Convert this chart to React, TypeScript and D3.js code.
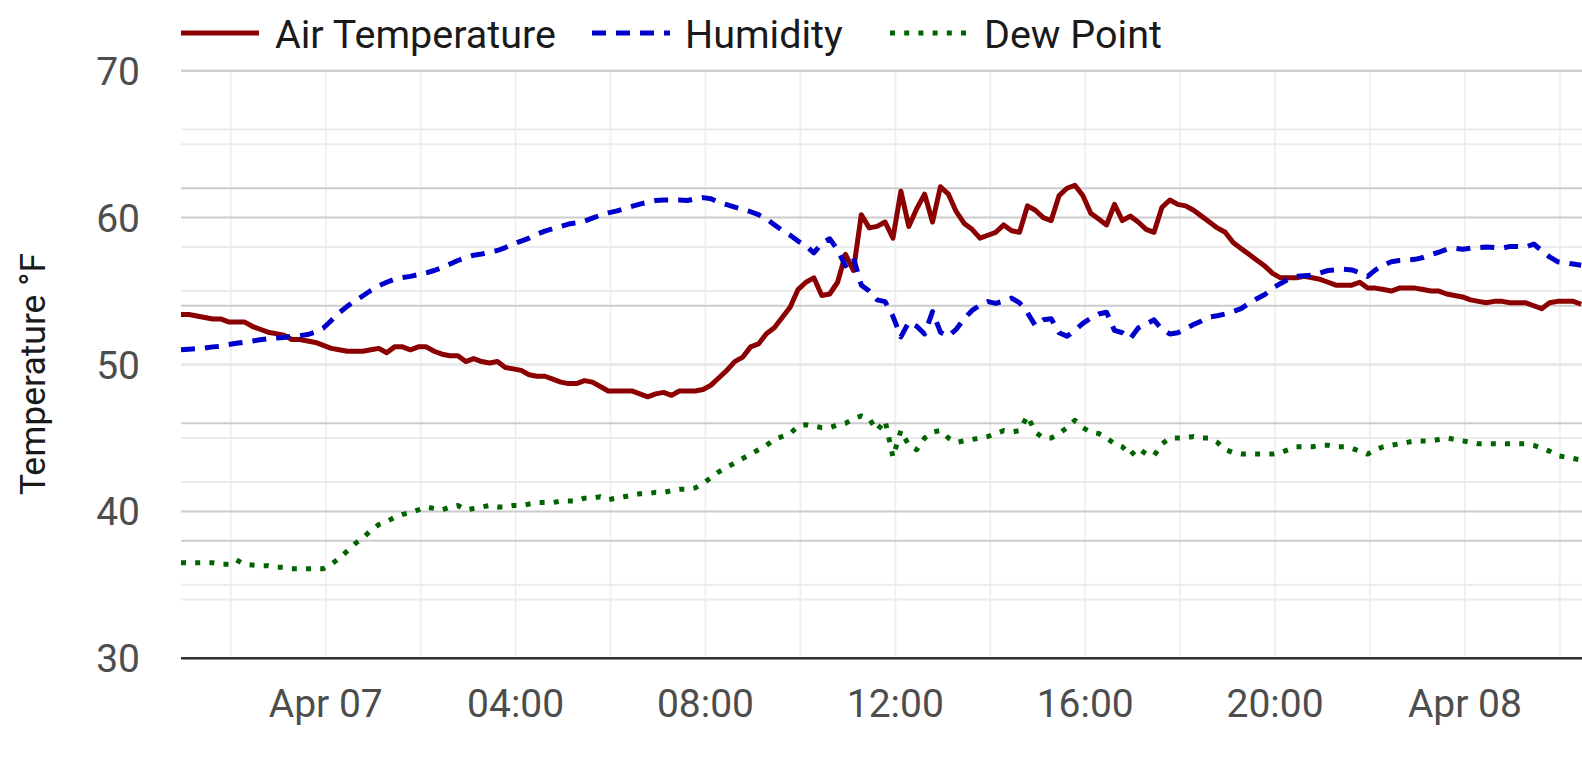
import React, { useEffect, useRef } from "react";
import * as d3 from "d3";

// readings every 10 minutes, starting Apr 6 20:57
const startTime = new Date(2024, 3, 6, 20, 57);
const stepMinutes = 10;

const airTemperature = [
  53.4, 53.4, 53.3, 53.2, 53.1, 53.1, 52.9, 52.9, 52.9, 52.6,
  52.4, 52.2, 52.1, 52.0, 51.7, 51.7, 51.6, 51.5, 51.3, 51.1,
  51.0, 50.9, 50.9, 50.9, 51.0, 51.1, 50.8, 51.2, 51.2, 51.0,
  51.2, 51.2, 50.9, 50.7, 50.6, 50.6, 50.2, 50.4, 50.2, 50.1,
  50.2, 49.8, 49.7, 49.6, 49.3, 49.2, 49.2, 49.0, 48.8, 48.7,
  48.7, 48.9, 48.8, 48.5, 48.2, 48.2, 48.2, 48.2, 48.0, 47.8,
  48.0, 48.1, 47.9, 48.2, 48.2, 48.2, 48.3, 48.6, 49.1, 49.6,
  50.2, 50.5, 51.2, 51.4, 52.1, 52.5, 53.2, 53.9, 55.1, 55.6,
  55.9, 54.7, 54.8, 55.6, 57.5, 56.4, 60.2, 59.3, 59.4, 59.7,
  58.6, 61.8, 59.4, 60.6, 61.6, 59.7, 62.1, 61.6, 60.4, 59.6,
  59.2, 58.6, 58.8, 59.0, 59.5, 59.1, 59.0, 60.8, 60.5, 60.0,
  59.8, 61.5, 62.0, 62.2, 61.5, 60.3, 59.9, 59.5, 60.9, 59.8,
  60.1, 59.7, 59.2, 59.0, 60.7, 61.2, 60.9, 60.8, 60.5, 60.1,
  59.7, 59.3, 59.0, 58.3, 57.9, 57.5, 57.1, 56.7, 56.2, 55.9,
  55.9, 55.9, 56.0, 55.9, 55.8, 55.6, 55.4, 55.4, 55.4, 55.6,
  55.2, 55.2, 55.1, 55.0, 55.2, 55.2, 55.2, 55.1, 55.0, 55.0,
  54.8, 54.7, 54.6, 54.4, 54.3, 54.2, 54.3, 54.3, 54.2, 54.2,
  54.2, 54.0, 53.8, 54.2, 54.3, 54.3, 54.3, 54.1,
];

// relative humidity, %, plotted on a hidden 0-100 axis
const humidity = [
  52.5, 52.6, 52.7, 52.8, 53.0, 53.1, 53.4, 53.6, 53.8, 54.0,
  54.2, 54.4, 54.5, 54.6, 54.8, 54.9, 55.1, 55.5, 56.2, 57.5,
  58.8, 59.9, 60.8, 61.7, 62.6, 63.4, 64.0, 64.5, 64.8, 65.0,
  65.3, 65.6, 66.0, 66.5, 67.1, 67.7, 68.2, 68.6, 68.8, 69.1,
  69.4, 69.9, 70.5, 71.0, 71.5, 72.2, 72.7, 73.1, 73.5, 73.9,
  74.1, 74.4, 74.9, 75.4, 75.8, 76.1, 76.5, 76.9, 77.3, 77.6,
  77.9, 78.0, 78.0, 78.0, 77.9, 78.2, 78.4, 78.2, 77.6, 77.2,
  76.8, 76.4, 76.0, 75.5, 74.8, 73.8, 72.8, 72.0, 71.0, 70.2,
  69.0, 70.6, 71.4, 69.5, 66.8, 68.2, 63.5, 62.5, 61.0, 60.7,
  58.2, 54.7, 57.2, 56.5, 55.2, 59.0, 55.5, 54.8, 56.0, 57.8,
  59.2, 60.1, 60.7, 60.4, 60.8, 61.3, 60.5, 58.8, 56.6, 57.6,
  57.8, 55.4, 54.8, 55.8, 57.0, 57.9, 58.6, 58.9, 55.8, 55.4,
  54.4, 56.2, 56.9, 57.6, 56.0, 55.2, 55.4, 56.1, 56.8, 57.4,
  58.1, 58.3, 58.6, 59.0, 59.5, 60.4, 61.2, 61.9, 63.0, 63.8,
  64.5, 65.0, 65.1, 65.2, 65.6, 66.0, 66.1, 66.2, 66.1, 65.6,
  65.0, 66.1, 66.9, 67.5, 67.7, 67.8, 67.9, 68.2, 68.7, 69.1,
  69.6, 69.8, 69.6, 69.8, 69.9, 70.0, 69.9, 69.8, 70.1, 70.1,
  70.0, 70.5, 69.4, 68.3, 67.5, 67.3, 67.1, 66.9,
];

const dewPoint = [
  36.5, 36.5, 36.5, 36.5, 36.5, 36.4, 36.4, 36.7, 36.4, 36.35,
  36.3, 36.3, 36.2, 36.2, 36.1, 36.1, 36.1, 36.1, 36.1, 36.4,
  36.8, 37.3, 37.8, 38.2, 38.7, 39.1, 39.3, 39.6, 39.8, 39.9,
  40.1, 40.3, 40.2, 40.1, 40.3, 40.4, 40.1, 40.2, 40.3, 40.4,
  40.3, 40.3, 40.4, 40.4, 40.5, 40.6, 40.6, 40.6, 40.7, 40.7,
  40.7, 40.9, 40.9, 41.0, 40.8, 40.9, 41.0, 41.1, 41.2, 41.2,
  41.3, 41.3, 41.4, 41.5, 41.5, 41.6, 41.9, 42.3, 42.7, 43.0,
  43.3, 43.6, 43.9, 44.2, 44.5, 44.9, 45.1, 45.3, 45.8, 45.9,
  45.8, 45.7, 45.7, 45.9, 46.0, 46.3, 46.5, 46.3, 45.5, 46.2,
  43.7, 45.5, 44.5, 44.2, 45.0, 45.4, 45.5, 45.0, 44.7, 44.8,
  44.9, 45.0, 45.1, 45.3, 45.5, 45.4, 45.5, 46.5, 45.4, 45.0,
  45.0, 45.3, 45.7, 46.2, 45.7, 45.4, 45.3, 45.0, 44.6, 44.4,
  43.8, 44.3, 43.9, 43.8, 44.6, 45.0, 45.0, 45.0, 45.1, 45.0,
  45.0, 44.7, 44.2, 44.0, 43.9, 43.9, 43.9, 43.9, 43.9, 44.0,
  44.2, 44.4, 44.4, 44.4, 44.5, 44.5, 44.4, 44.4, 44.3, 44.1,
  43.9, 44.2, 44.4, 44.5, 44.6, 44.7, 44.8, 44.8, 44.8, 44.9,
  45.0, 44.9, 44.8, 44.7, 44.6, 44.6, 44.6, 44.6, 44.6, 44.6,
  44.6, 44.5, 44.3, 44.1, 43.8, 43.7, 43.6, 43.5,
];

const tempMajorTicks = [30, 40, 50, 60, 70];
const tempMinorTicks = [35, 45, 55, 65];
const humidityMajorTicks = [0, 20, 40, 60, 80, 100];
const humidityMinorTicks = [10, 30, 50, 70, 90];
const seriesNames = ["Air Temperature", "Humidity", "Dew Point"];

function WeatherChart({ width = 1582, height = 761 }) {
  const svgRef = useRef<SVGSVGElement>(null);

  useEffect(() => {
    const svg = d3.select(svgRef.current);
    svg.selectAll("*").remove();
    svg.attr("width", width).attr("height", height).style("background", "#fff");

    const left = 181;
    const top = 70.7;
    const bottom = 658.3;
    const font = "Roboto, sans-serif";

    const times = airTemperature.map((_, i) =>
      d3.timeMinute.offset(startTime, i * stepMinutes)
    );
    const endTime = d3.timeMinute.offset(startTime, 1771);

    const x = d3.scaleTime().domain([startTime, endTime]).range([left, width]);
    const yTemp = d3.scaleLinear().domain([30, 70]).range([bottom, top]);
    const yHum = d3.scaleLinear().domain([0, 100]).range([bottom, top]);

    // vertical grid, every 2 hours
    svg
      .append("g")
      .selectAll("line")
      .data(d3.timeHour.every(2)!.range(startTime, endTime))
      .join("line")
      .attr("x1", (d) => x(d))
      .attr("x2", (d) => x(d))
      .attr("y1", top)
      .attr("y2", bottom)
      .attr("stroke", "#f0f0f0")
      .attr("stroke-width", 2);

    const hGrid = (ticks: number[], scale: d3.ScaleLinear<number, number>, color: string) =>
      svg
        .append("g")
        .selectAll("line")
        .data(ticks)
        .join("line")
        .attr("x1", left)
        .attr("x2", width)
        .attr("y1", (d) => scale(d))
        .attr("y2", (d) => scale(d))
        .attr("stroke", color)
        .attr("stroke-width", 2);

    // temperature grid, then the humidity grid on top of it
    hGrid(tempMinorTicks, yTemp, "#ebebeb");
    hGrid(tempMajorTicks, yTemp, "#cccccc");
    hGrid(humidityMinorTicks, yHum, "#ebebeb");
    hGrid(humidityMajorTicks, yHum, "#cccccc");

    // x axis line
    svg
      .append("line")
      .attr("x1", left)
      .attr("x2", width)
      .attr("y1", bottom)
      .attr("y2", bottom)
      .attr("stroke", "#333")
      .attr("stroke-width", 2.5);

    // y tick labels
    svg
      .append("g")
      .selectAll("text")
      .data(tempMajorTicks)
      .join("text")
      .attr("x", 140)
      .attr("y", (d) => yTemp(d))
      .attr("dy", "0.36em")
      .attr("text-anchor", "end")
      .attr("font-family", font)
      .attr("font-size", 39)
      .attr("fill", "#4d4d4d")
      .text((d) => d);

    // x tick labels
    const fmt = (d: Date) =>
      d.getHours() === 0 ? d3.timeFormat("%b %d")(d) : d3.timeFormat("%H:%M")(d);
    svg
      .append("g")
      .selectAll("text")
      .data(d3.timeHour.every(4)!.range(startTime, endTime))
      .join("text")
      .attr("x", (d) => x(d))
      .attr("y", 716.5)
      .attr("text-anchor", "middle")
      .attr("font-family", font)
      .attr("font-size", 39)
      .attr("fill", "#4d4d4d")
      .text((d) => fmt(d));

    // y axis title
    svg
      .append("text")
      .attr("transform", "translate(45,374) rotate(-90)")
      .attr("text-anchor", "middle")
      .attr("font-family", font)
      .attr("font-size", 35.5)
      .attr("fill", "#1a1a1a")
      .text("Temperature °F");

    const styles = [
      { color: "#8b0000", dash: null },
      { color: "#0000cd", dash: "14,10" },
      { color: "#006400", dash: "5,9.2" },
    ];

    const tempLine = d3
      .line<number>()
      .x((d, i) => x(times[i]))
      .y((d) => yTemp(d));
    const humLine = d3
      .line<number>()
      .x((d, i) => x(times[i]))
      .y((d) => yHum(d));

    const plot = [
      { values: airTemperature, gen: tempLine, ...styles[0] },
      { values: humidity, gen: humLine, ...styles[1] },
      { values: dewPoint, gen: tempLine, ...styles[2] },
    ];

    plot.forEach((p) => {
      svg
        .append("path")
        .attr("d", p.gen(p.values))
        .attr("fill", "none")
        .attr("stroke", p.color)
        .attr("stroke-width", 5)
        .attr("stroke-linejoin", "round")
        .attr("stroke-dasharray", p.dash);
    });

    // legend
    const keyX = [181, 592, 890];
    const legend = svg
      .append("g")
      .selectAll("g")
      .data(seriesNames)
      .join("g")
      .attr("transform", (d, i) => `translate(${keyX[i]},0)`);
    legend
      .append("line")
      .attr("x1", 0)
      .attr("x2", 78)
      .attr("y1", 33)
      .attr("y2", 33)
      .attr("stroke", (d, i) => styles[i].color)
      .attr("stroke-width", 5)
      .attr("stroke-dasharray", (d, i) => styles[i].dash);
    legend
      .append("text")
      .attr("x", (d, i) => (i === 1 ? 93 : 94))
      .attr("y", 47.7)
      .attr("font-family", font)
      .attr("font-size", 39.5)
      .attr("fill", "#1a1a1a")
      .text((d) => d);
  }, []);

  return (
    <svg
      ref={svgRef}
      style={{ position: "absolute", left: 0, top: 0, display: "block" }}
    ></svg>
  );
}

export default function App() {
  return <WeatherChart />;
}
